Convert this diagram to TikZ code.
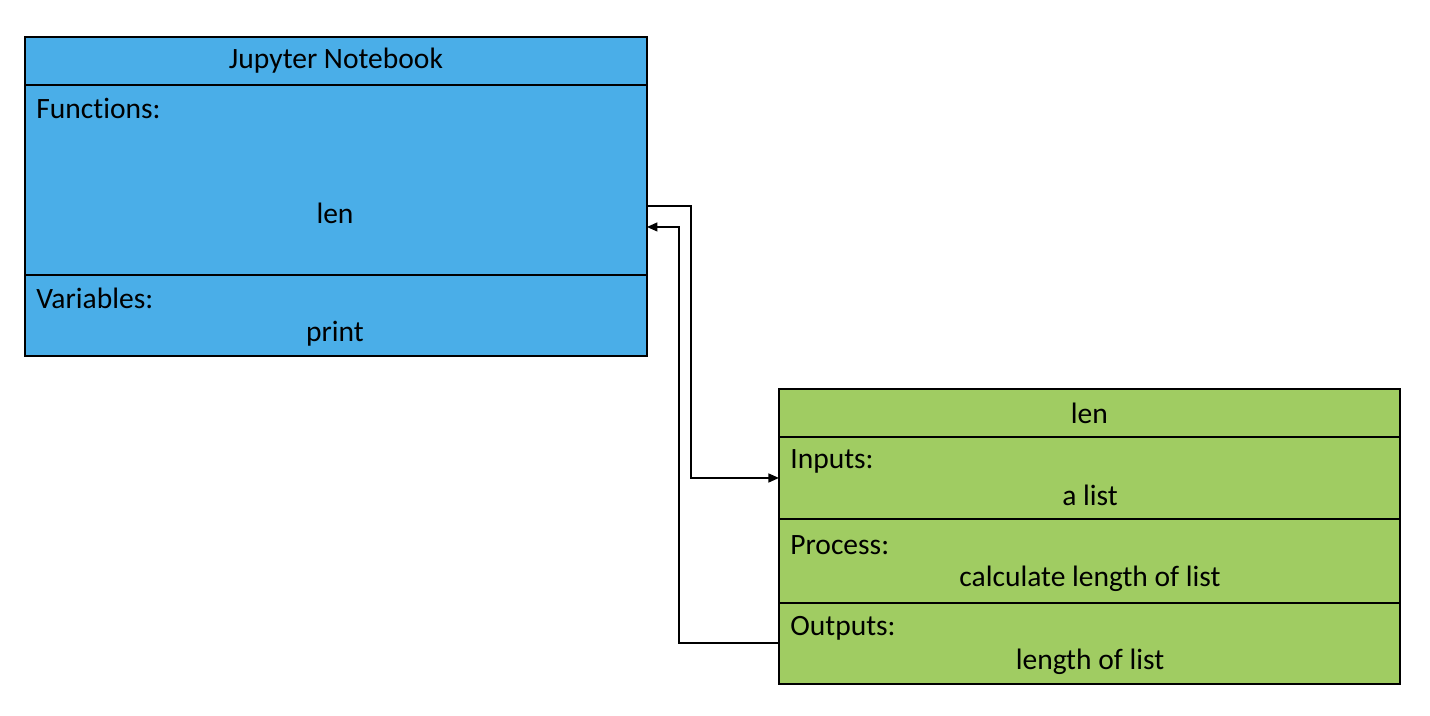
\documentclass[tikz,border=0pt]{standalone}
\usepackage{fontspec}
\setmainfont{Carlito}[Ligatures=NoCommon]
\usepackage{xcolor}
\usepackage{tikz}
\usetikzlibrary{arrows.meta,positioning,calc}

\definecolor{nbblue}{RGB}{74,174,232}
\definecolor{lengreen}{RGB}{160,204,98}

\tikzset{
    nbsec/.style={draw=black,line width=1.1pt,fill=nbblue,minimum width=12.44cm,inner sep=0pt,outer sep=0pt},
    lensec/.style={draw=black,line width=1.1pt,fill=lengreen,minimum width=12.42cm,inner sep=0pt,outer sep=0pt},
    lbl/.style={anchor=west,inner sep=0pt},
    conn/.style={line width=1.1pt,-{Triangle[length=6pt,width=5pt]}}
}

\begin{document}
\begin{tikzpicture}[x=0.02cm,y=-0.02cm,font=\fontsize{16.8}{20}\selectfont]
    \useasboundingbox (0,0) rectangle (1430,716);

    % Notebook
    \node[nbsec,minimum height=0.96cm,anchor=north west] (nbtitle) at (25,37) {};
    \node[nbsec,minimum height=3.8cm,below=0pt of nbtitle] (nbfunc) {};
    \node[nbsec,minimum height=1.62cm,below=0pt of nbfunc] (nbvar) {};
    \node (nbname) at (nbtitle) {Jupyter Notebook};
    \node[lbl] (funclbl) at (36,108) {Functions:};
    \node (funclen) at (335,213) {len};
    \node[lbl] (varlbl) at (36,298) {Variables:};
    \node (varprint) at (335,334) {print};

    % len function
    \node[lensec,minimum height=0.96cm,anchor=north west] (lentitle) at (779,389) {};
    \node[lensec,minimum height=1.64cm,below=0pt of lentitle] (leninputs) {};
    \node[lensec,minimum height=1.68cm,below=0pt of leninputs] (lenprocess) {};
    \node[lensec,minimum height=1.62cm,below=0pt of lenprocess] (lenoutputs) {};
    \node (lenname) at (lentitle) {len};
    \node[lbl] (inlbl) at (790,461) {Inputs:};
    \node (intext) at (1090,495) {a list};
    \node[lbl] (proclbl) at (790,545) {Process:};
    \node (proctext) at (1090,579) {calculate length of list};
    \node[lbl] (outlbl) at (790,628) {Outputs:};
    \node (outtext) at (1090,662) {length of list};

    % Call and return
    \draw[conn] ($(nbfunc.east)+(0,26)$) -- ++(44,0) |- (leninputs.west);
    \draw[conn] (lenoutputs.west) -- ++(-100,0) |- ($(nbfunc.east)+(0,47)$);
\end{tikzpicture}
\end{document}
